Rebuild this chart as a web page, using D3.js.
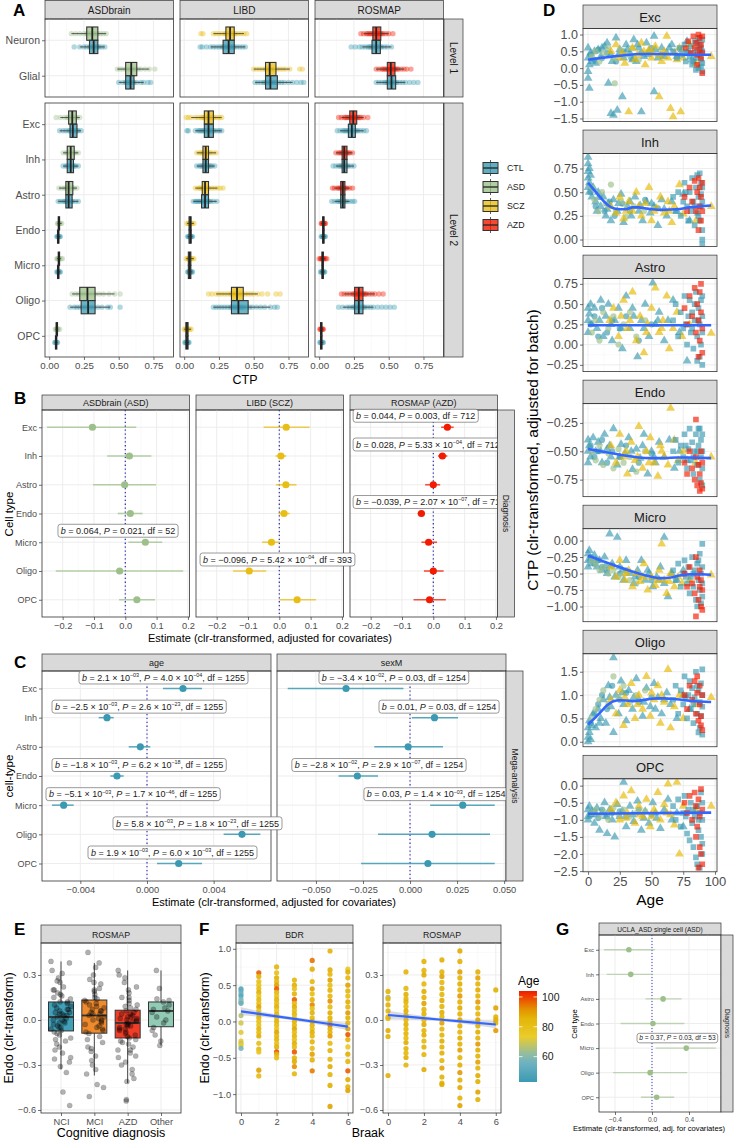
<!DOCTYPE html>
<html><head><meta charset="utf-8">
<script src="https://cdn.jsdelivr.net/npm/d3@7"></script>
<style>body{margin:0;background:#fff}svg{display:block}</style>
</head><body><script>
// ================= DATA =================
// ---- Panel A (CTP boxplots) ----
const aDatasets=["ASDbrain","LIBD","ROSMAP"];
const aDisease=["ASD","SCZ","AZD"];
const aLevel1=["Neuron","Glial"];
const aLevel2=["Exc","Inh","Astro","Endo","Micro","Oligo","OPC"];
const aTicks=[0,0.25,0.5,0.75];
// [q1, median, q3] for [disease, CTL], cells: Neuron, Glial, Exc, Inh, Astro, Endo, Micro, Oligo, OPC
const aBoxASDbrain=[[[0.27,0.31,0.35],[0.29,0.32,0.35]],[[0.55,0.59,0.63],[0.55,0.585,0.61]],[[0.14,0.166,0.195],[0.15,0.17,0.20]],[[0.13,0.155,0.18],[0.13,0.155,0.175]],[[0.12,0.14,0.17],[0.12,0.14,0.165]],[[0.065,0.07,0.075],[0.06,0.065,0.07]],[[0.065,0.07,0.075],[0.06,0.065,0.07]],[[0.22,0.275,0.33],[0.23,0.28,0.33]],[[0.05,0.055,0.06],[0.045,0.05,0.055]]];
const aBoxLIBD=[[[0.30,0.33,0.36],[0.28,0.32,0.36]],[[0.585,0.615,0.66],[0.585,0.62,0.67]],[[0.145,0.175,0.21],[0.145,0.175,0.21]],[[0.135,0.155,0.175],[0.135,0.155,0.175]],[[0.13,0.15,0.175],[0.125,0.15,0.175]],[[0.035,0.043,0.05],[0.035,0.045,0.05]],[[0.03,0.04,0.048],[0.03,0.04,0.048]],[[0.34,0.38,0.425],[0.34,0.39,0.46]],[[0.012,0.02,0.028],[0.012,0.02,0.028]]];
const aBoxROSMAP=[[[0.386,0.41,0.443],[0.38,0.41,0.44]],[[0.49,0.515,0.545],[0.49,0.52,0.55]],[[0.22,0.245,0.27],[0.21,0.235,0.26]],[[0.165,0.18,0.2],[0.165,0.18,0.2]],[[0.155,0.17,0.185],[0.155,0.17,0.185]],[[0.025,0.03,0.035],[0.025,0.03,0.035]],[[0.02,0.025,0.03],[0.02,0.025,0.03]],[[0.255,0.285,0.315],[0.255,0.285,0.315]],[[0.01,0.015,0.02],[0.01,0.015,0.02]]];
const aPtsASDbrain=[
 [[0.16,0.19,0.22,0.25,0.27,0.28,0.29,0.30,0.31,0.32,0.33,0.34,0.35,0.37,0.39,0.41],[0.18,0.22,0.25,0.27,0.29,0.30,0.31,0.32,0.33,0.34,0.35,0.36,0.38,0.40]],
 [[0.49,0.51,0.53,0.55,0.57,0.58,0.59,0.60,0.61,0.62,0.64,0.66,0.69,0.72,0.76],[0.50,0.53,0.55,0.56,0.57,0.58,0.59,0.60,0.61,0.63,0.66,0.68,0.71,0.73]],
 [[0.05,0.08,0.11,0.13,0.14,0.15,0.16,0.17,0.18,0.19,0.20,0.22],[0.075,0.1,0.12,0.14,0.15,0.16,0.17,0.18,0.19,0.2,0.21,0.23]],
 [[0.10,0.12,0.13,0.14,0.15,0.16,0.17,0.18,0.19,0.21],[0.10,0.12,0.13,0.14,0.15,0.16,0.17,0.18,0.19,0.21]],
 [[0.07,0.09,0.11,0.12,0.13,0.14,0.15,0.16,0.17,0.18,0.20],[0.065,0.08,0.1,0.11,0.12,0.13,0.14,0.15,0.16,0.17,0.19,0.21]],
 [[0.06,0.065,0.07,0.075,0.08,0.09],[0.055,0.06,0.065,0.07,0.075,0.08]],
 [[0.055,0.06,0.065,0.07,0.075,0.085,0.095],[0.055,0.06,0.065,0.07,0.075,0.08]],
 [[0.165,0.19,0.21,0.23,0.25,0.27,0.29,0.31,0.33,0.36,0.39,0.43,0.47,0.51],[0.15,0.18,0.2,0.22,0.24,0.26,0.28,0.3,0.32,0.35,0.38,0.42,0.44,0.51]],
 [[0.045,0.05,0.055,0.06,0.065,0.075],[0.04,0.045,0.05,0.055,0.06]]];
const aPtsLIBD=[
 [[0.12,0.135,0.21,0.23,0.25,0.27,0.29,0.30,0.31,0.32,0.33,0.34,0.35,0.36,0.37,0.39,0.41,0.43,0.45],[0.115,0.13,0.16,0.19,0.21,0.23,0.25,0.27,0.28,0.29,0.30,0.31,0.32,0.33,0.34,0.35,0.36,0.38,0.40,0.42,0.44]],
 [[0.50,0.52,0.54,0.56,0.58,0.59,0.60,0.61,0.62,0.63,0.64,0.65,0.67,0.69,0.71,0.73,0.76,0.83,0.85],[0.51,0.53,0.55,0.57,0.58,0.59,0.60,0.61,0.62,0.63,0.64,0.65,0.66,0.68,0.70,0.72,0.75,0.78,0.81,0.84,0.86]],
 [[0.015,0.03,0.05,0.08,0.1,0.12,0.13,0.14,0.15,0.16,0.17,0.18,0.19,0.2,0.21,0.22,0.24,0.255,0.27],[0.02,0.03,0.08,0.1,0.11,0.12,0.13,0.14,0.15,0.16,0.17,0.18,0.19,0.2,0.21,0.22,0.24,0.255,0.27]],
 [[0.09,0.11,0.12,0.13,0.14,0.15,0.16,0.17,0.18,0.19,0.21,0.23],[0.09,0.11,0.12,0.13,0.14,0.15,0.16,0.17,0.18,0.19,0.2,0.22]],
 [[0.08,0.1,0.11,0.12,0.13,0.14,0.15,0.16,0.17,0.18,0.2,0.22,0.24,0.26,0.28],[0.065,0.08,0.09,0.1,0.11,0.12,0.13,0.14,0.15,0.16,0.17,0.18,0.19,0.21,0.235]],
 [[0.02,0.03,0.035,0.04,0.045,0.05,0.06,0.07],[0.025,0.03,0.035,0.04,0.045,0.05,0.055,0.06]],
 [[0.015,0.025,0.03,0.035,0.04,0.045,0.05,0.06,0.07],[0.025,0.03,0.035,0.04,0.045,0.05,0.055,0.06]],
 [[0.175,0.2,0.23,0.25,0.27,0.29,0.31,0.33,0.34,0.35,0.36,0.37,0.38,0.39,0.4,0.41,0.42,0.44,0.46,0.48,0.5,0.53,0.56,0.6,0.66,0.69],[0.21,0.23,0.25,0.27,0.29,0.31,0.33,0.34,0.35,0.36,0.37,0.38,0.39,0.4,0.41,0.42,0.43,0.45,0.47,0.49,0.52,0.55,0.58,0.62,0.65,0.67]],
 [[0.0,0.01,0.015,0.02,0.025,0.03,0.04,0.05],[0.005,0.01,0.015,0.02,0.025,0.03,0.035]]];
const aPtsROSMAP=[
 [[0.30,0.32,0.34,0.35,0.36,0.37,0.38,0.39,0.40,0.41,0.42,0.43,0.44,0.45,0.46,0.48,0.5,0.53],[0.23,0.26,0.29,0.31,0.33,0.35,0.36,0.37,0.38,0.39,0.4,0.41,0.42,0.43,0.44,0.45,0.47,0.49,0.52]],
 [[0.41,0.43,0.45,0.46,0.47,0.48,0.49,0.5,0.51,0.52,0.53,0.54,0.55,0.56,0.57,0.59,0.61,0.63,0.66],[0.41,0.43,0.45,0.47,0.48,0.49,0.5,0.51,0.52,0.53,0.54,0.55,0.56,0.58,0.6,0.62,0.65,0.68,0.71]],
 [[0.14,0.16,0.18,0.19,0.2,0.21,0.22,0.23,0.24,0.25,0.26,0.27,0.28,0.29,0.3,0.32,0.35],[0.13,0.15,0.17,0.18,0.19,0.2,0.21,0.22,0.23,0.24,0.25,0.26,0.27,0.28,0.3,0.32,0.34]],
 [[0.12,0.14,0.15,0.16,0.17,0.18,0.19,0.2,0.21,0.22,0.24],[0.10,0.12,0.14,0.15,0.16,0.17,0.18,0.19,0.2,0.21,0.23,0.25]],
 [[0.095,0.11,0.13,0.14,0.15,0.16,0.17,0.18,0.19,0.2,0.22,0.24],[0.09,0.11,0.13,0.14,0.15,0.16,0.17,0.18,0.19,0.2,0.22,0.24,0.255]],
 [[0.015,0.02,0.025,0.03,0.035,0.04,0.045],[0.015,0.02,0.025,0.03,0.035,0.04,0.045]],
 [[0.0,0.01,0.015,0.02,0.025,0.03,0.035,0.045,0.055],[0.01,0.015,0.02,0.025,0.03,0.035,0.04]],
 [[0.16,0.18,0.2,0.22,0.24,0.25,0.26,0.27,0.28,0.29,0.3,0.31,0.32,0.33,0.34,0.36,0.38,0.4,0.43,0.46],[0.14,0.17,0.2,0.22,0.24,0.25,0.26,0.27,0.28,0.29,0.3,0.31,0.32,0.33,0.35,0.37,0.39,0.42,0.45,0.48,0.51,0.54]],
 [[0.005,0.01,0.015,0.02,0.025,0.03],[0.005,0.01,0.015,0.02,0.025,0.03]]];
const aLegend=["CTL","ASD","SCZ","AZD"];

// ---- Panel B (diagnosis estimates) ----
const bCells=["Exc","Inh","Astro","Endo","Micro","Oligo","OPC"];
const bPanels=["ASDbrain (ASD)","LIBD (SCZ)","ROSMAP (AZD)"];
const bTicks=[-0.2,-0.1,0,0.1,0.2];
const bEstASD=[-0.105,0.013,-0.002,0.016,0.064,-0.018,0.037];
const bLoASD=[-0.25,-0.058,-0.103,-0.024,0.01,-0.222,-0.02];
const bHiASD=[0.035,0.083,0.098,0.055,0.118,0.185,0.095];
const bEstSCZ=[0.022,0.005,0.021,0.015,-0.025,-0.096,0.057];
const bLoSCZ=[-0.05,-0.012,-0.011,-0.003,-0.055,-0.148,0.0];
const bHiSCZ=[0.097,0.022,0.055,0.033,0.0,-0.042,0.117];
const bEstAZD=[0.045,0.029,0.0,-0.038,-0.015,0.0,-0.012];
const bLoAZD=[0.025,0.015,-0.026,-0.05,-0.038,-0.03,-0.063];
const bHiAZD=[0.065,0.045,0.022,-0.027,0.012,0.033,0.04];
const bLabelPanel=[0,1,2,2,2];
const bLabelCell=["Micro","Oligo","Exc","Inh","Endo"];
const bLabelText=["*b* = 0.064, *P* = 0.021, df = 52","*b* = −0.096, *P* = 5.42 × 10^−04^, df = 393","*b* = 0.044, *P* = 0.003, df = 712","*b* = 0.028, *P* = 5.33 × 10^−04^, df = 712","*b* = −0.039, *P* = 2.07 × 10^−07^, df = 712"];

// ---- Panel C (mega-analysis) ----
const cPanels=["age","sexM"];
const cAgeTicks=[-0.004,0,0.004];
const cSexTicks=[-0.05,-0.025,0,0.025,0.05];
const cAgeEst=[0.00216,-0.0024,-0.0004,-0.0018,-0.0050,0.0057,0.0019];
const cAgeLo=[0.00096,-0.0029,-0.0011,-0.0022,-0.0057,0.0046,0.0006];
const cAgeHi=[0.0033,-0.0020,0.0002,-0.0014,-0.0044,0.0068,0.0033];
const cSexEst=[-0.034,0.013,-0.001,-0.028,0.028,0.0117,0.0095];
const cSexLo=[-0.065,0.001,-0.019,-0.038,0.0107,-0.017,-0.026];
const cSexHi=[-0.0035,0.0255,0.0175,-0.017,0.045,0.0425,0.045];
const cLabelPanel=[0,0,0,0,0,0,1,1,1,1];
const cLabelCell=["Exc","Inh","Endo","Micro","Oligo","OPC","Exc","Inh","Endo","Micro"];
const cLabelText=["*b* = 2.1 × 10^−03^, *P* = 4.0 × 10^−04^, df = 1255","*b* = −2.5 × 10^−03^, *P* = 2.6 × 10^−23^, df = 1255","*b* = −1.8 × 10^−03^, *P* = 6.2 × 10^−18^, df = 1255","*b* = −5.1 × 10^−03^, *P* = 1.7 × 10^−46^, df = 1255","*b* = 5.8 × 10^−03^, *P* = 1.8 × 10^−23^, df = 1255","*b* = 1.9 × 10^−03^, *P* = 6.0 × 10^−03^, df = 1255","*b* = −3.4 × 10^−02^, *P* = 0.03, df = 1254","*b* = 0.01, *P* = 0.03, df = 1254","*b* = −2.8 × 10^−02^, *P* = 2.9 × 10^−07^, df = 1254","*b* = 0.03, *P* = 1.4 × 10^−03^, df = 1254"];

// ---- Panel D (CTP vs age) : flat [age, value, age, value, ...] ----
const dCells=["Exc","Inh","Astro","Endo","Micro","Oligo","OPC"];
const dAgeTicks=[0,25,50,75,100];
const dExcTriT=[0,0.6,0,0.3,0,-0.1,0,-0.3,1,0.1,1,-0.6,2,0.45,3,0.2,5,0.5,8,0.55,10,0.35,13,0.65,15,0.75,16,-0.45,18,0.4,18,-1.35,20,-1.4,22,0.9,23,-1.25,25,0.55,27,-0.85,28,0.3,30,0.7,33,0.45,36,0.85,38,0.2,40,0.6,42,-1.3,44,0.35,46,0.75,48,0.5,52,0.95,52,-0.7,55,0.3,58,0.6,62,0.45,66,0.7,70,0.35,74,0.55,78,0.8,82,0.25,6,0.15,11,0.6,19,0.2,24,0.4,31,0.55,35,0.25,39,0.7,47,0.4,53,0.55,60,0.35,64,0.6];
const dExcTriY=[18,0.5,22,0.7,25,0.3,29,0.15,32,-1.3,35,0.6,39,0.4,42,0.75,45,0.1,48,0.55,50,0.3,53,0.65,56,-0.85,58,0.2,60,0.5,62,0.95,65,-1.2,67,-1.45,68,0.45,72,0.6,73,-1.3,75,0.3,80,0.7,85,0.15,97,0.35,27,0.45,37,0.25,44,0.5,51,0.45,57,0.4,63,0.3,70,0.25];
const dExcCirG=[3,0.35,6,0.5,9,0.2,12,0.45,16,0.6,20,0.3,21,-0.45,25,0.55,30,0.4,35,0.6,40,0.25,48,0.5,55,0.35];
const dExcCirT=[2,0.4,5,0.25,8,0.55,11,0.3,15,0.45,22,0.2,28,0.5,34,0.3,42,0.45,50,0.6,58,0.4];
const dExcSqT=[67,0.5,70,0.3,72,0.6,74,0.4,76,0.7,77,0.2,79,0.5,80,0.35,81,0.65,82,0.1,83,0.45,84,0.8,85,0.3,86,0.55,87,0.0,88,0.4,88,0.7,89,0.25,89,0.6,90,0.5,90,0.15,90,-0.1,90,0.85,85,-0.05,87,0.9,78,0.45,83,0.2,86,0.75,89,0.05];
const dExcSqR=[77,0.6,79,0.8,81,0.45,83,0.95,84,0.6,85,0.75,86,0.4,87,1.0,88,0.55,88,0.9,89,0.3,89,0.7,90,0.95,90,-0.15,90,0.45,86,0.1];
const dInhTriT=[0,0.87,0,0.8,0,0.72,0,0.65,0,0.55,1,0.75,1,0.6,1,0.5,2,0.68,3,0.45,4,0.55,6,0.4,8,0.5,10,0.35,12,0.45,14,0.25,16,0.38,18,0.2,20,0.42,23,0.3,26,0.48,28,0.18,31,0.35,34,0.25,37,0.45,40,0.3,43,0.2,46,0.4,49,0.28,52,0.35,55,0.15,58,0.42,62,0.25,66,0.4,70,0.3,75,0.48,80,0.2,7,0.3,15,0.32,24,0.38,33,0.4,41,0.36,50,0.38,60,0.32];
const dInhTriY=[18,0.35,22,0.28,25,0.45,28,0.22,32,0.4,35,0.3,38,0.5,42,0.25,45,0.38,48,0.55,50,0.2,54,0.33,57,0.45,60,0.28,63,0.4,66,0.18,68,0.35,72,0.58,75,0.27,85,0.2,97,0.35,30,0.3,40,0.35,52,0.3,64,0.3];
const dInhCirG=[3,0.55,5,0.42,8,0.3,11,0.5,14,0.38,18,0.58,22,0.3,26,0.4,30,0.24,36,0.35,44,0.3];
const dInhCirT=[2,0.5,6,0.35,9,0.45,13,0.3,17,0.4,21,0.25,27,0.38,33,0.3,45,0.42,55,0.33];
const dInhSqT=[67,0.45,69,0.3,71,0.5,73,0.25,75,0.4,76,0.6,78,0.35,79,0.2,80,0.5,81,0.3,82,0.65,83,0.4,84,0.15,85,0.55,86,0.28,87,0.45,88,0.7,88,0.2,89,0.35,89,0.6,90,0.1,90,0.4,90,0.0,90,-0.05,90,0.55,86,0.68,77,0.5,84,0.35,87,0.25,89,0.48];
const dInhSqR=[76,0.45,78,0.3,80,0.55,82,0.4,84,0.62,85,0.3,86,0.5,87,0.65,88,0.35,88,0.55,89,0.45,89,0.2,90,0.6,90,0.3,87,0.1];
const dAstroTriT=[0,0.45,0,0.3,0,0.15,1,0.38,2,0.5,3,0.25,5,0.45,7,0.2,10,0.55,12,0.1,14,0.35,16,0.5,19,0.05,21,0.3,24,0.45,27,-0.05,30,0.6,33,0.2,36,0.35,39,-0.15,42,0.3,45,0.5,48,0.1,51,0.76,53,0.25,56,0.4,60,0.05,63,0.3,67,0.55,72,0.15,78,-0.2,9,0.3,18,0.25,26,0.2,35,0.45,44,0.2,55,0.3];
const dAstroTriY=[17,0.3,20,0.45,24,0.1,28,0.55,31,0.2,35,0.65,38,0.05,41,0.35,44,-0.1,47,0.25,50,0.45,53,0.7,56,0.15,59,0.3,62,0.6,64,-0.05,67,0.2,70,0.4,74,0.1,80,0.25,97,0.14,26,0.35,33,0.3,46,0.15,58,0.2];
const dAstroCirG=[3,0.15,6,0.3,9,0.05,12,0.4,16,0.2,20,0.35,24,0.0,28,0.25,33,0.4,38,0.1,45,0.3];
const dAstroCirT=[2,0.25,5,0.35,8,0.1,11,0.45,15,0.15,19,0.3,25,0.2,30,0.35,40,0.05,50,0.25];
const dAstroSqT=[67,0.3,69,0.5,71,0.1,73,0.4,75,0.2,76,0.6,78,0.0,79,0.35,80,0.55,81,0.15,82,0.4,83,-0.05,84,0.3,85,0.65,86,0.1,87,0.45,88,-0.15,88,0.25,89,0.55,89,0.0,90,0.35,90,-0.25,90,0.15,90,0.6,86,-0.2,84,0.5,77,0.25,82,0.2,87,0.3];
const dAstroSqR=[76,0.45,78,0.25,80,0.6,82,0.35,84,0.7,85,0.15,86,0.5,87,0.3,88,0.65,88,0.05,89,0.4,89,0.75,90,0.2,90,-0.1,87,-0.15];
const dEndoTriT=[0,-0.4,0,-0.5,0,-0.6,1,-0.45,2,-0.55,4,-0.38,6,-0.5,8,-0.42,11,-0.6,13,-0.35,15,-0.48,18,-0.55,20,-0.3,23,-0.62,26,-0.44,29,-0.52,32,-0.38,35,-0.66,38,-0.48,41,-0.56,44,-0.35,47,-0.7,50,-0.5,53,-0.6,56,-0.42,60,-0.55,64,-0.4,68,-0.65,72,-0.5,78,-0.58,10,-0.5,17,-0.45,25,-0.55,34,-0.5,43,-0.45,52,-0.55];
const dEndoTriY=[18,-0.45,22,-0.6,25,-0.35,28,-0.55,31,-0.7,34,-0.42,37,-0.58,40,-0.28,43,-0.65,46,-0.5,49,-0.38,52,-0.6,55,-0.72,57,-0.45,60,-0.55,63,-0.62,65,-0.12,68,-0.4,71,-0.58,75,-0.5,85,-0.6,97,-0.55,30,-0.5,39,-0.55,48,-0.6,58,-0.5];
const dEndoCirG=[3,-0.5,6,-0.58,9,-0.45,12,-0.62,16,-0.52,20,-0.65,24,-0.48,28,-0.6,33,-0.55,38,-0.68,45,-0.5];
const dEndoCirT=[2,-0.45,5,-0.55,8,-0.5,11,-0.4,15,-0.6,19,-0.5,25,-0.55,30,-0.45,40,-0.6,50,-0.52];
const dEndoSqT=[67,-0.5,69,-0.4,71,-0.6,73,-0.45,75,-0.55,76,-0.35,78,-0.65,79,-0.48,80,-0.3,81,-0.58,82,-0.42,83,-0.7,84,-0.5,85,-0.35,86,-0.62,87,-0.45,88,-0.75,88,-0.3,89,-0.55,89,-0.4,90,-0.65,90,-0.5,90,-0.35,90,-0.8,87,-0.3,77,-0.45,83,-0.55,86,-0.5];
const dEndoSqR=[76,-0.6,78,-0.7,80,-0.5,82,-0.65,84,-0.75,85,-0.55,86,-0.8,87,-0.62,88,-0.85,88,-0.7,89,-0.5,89,-0.78,90,-0.6,90,-0.83,85,-0.22];
const dMicroTriT=[0,-0.2,0,-0.3,0,-0.4,1,-0.15,2,-0.28,3,-0.35,5,-0.22,7,-0.4,9,-0.3,11,-0.45,13,-0.25,15,-0.5,17,0.1,19,-0.35,21,-0.55,23,0.05,25,-0.4,28,-0.6,30,-0.3,33,-0.5,36,-0.65,39,-0.45,42,-0.3,45,-0.6,48,-0.5,51,-0.7,54,-0.55,57,-0.4,60,-0.65,63,-0.85,66,-0.5,70,-0.6,75,-0.45,60,0.05,6,-0.3,14,-0.38,27,-0.45,37,-0.55,47,-0.45,56,-0.6];
const dMicroTriY=[18,-0.4,22,-0.55,25,-0.3,29,-0.6,32,-0.45,35,-0.7,38,-0.5,41,-0.62,44,-0.35,47,-0.75,50,-0.55,53,-0.68,56,-0.45,58,-0.05,60,-0.6,62,-0.8,65,-0.5,68,-0.7,71,-0.55,74,-0.65,80,-0.6,97,-0.52,30,-0.5,43,-0.55,55,-0.6,64,-0.62];
const dMicroCirG=[3,-0.3,6,-0.35,9,-0.45,12,-0.4,16,-0.5,20,-0.45,24,-0.55,28,-0.5,33,-0.6,38,-0.65,45,-0.55];
const dMicroCirT=[2,-0.25,5,-0.35,8,-0.3,11,-0.4,15,-0.45,19,-0.38,25,-0.5,30,-0.45,40,-0.55,50,-0.6];
const dMicroSqT=[67,-0.45,69,-0.6,71,-0.35,73,-0.7,75,-0.5,76,-0.3,78,-0.65,79,-0.4,80,-0.8,81,-0.55,82,-0.25,83,-0.7,84,-0.45,85,-0.9,86,-0.35,87,-0.6,88,-0.2,88,-0.75,89,-0.5,89,-0.95,90,-0.4,90,-0.65,90,-0.05,90,-0.85,86,-1.0,77,-0.55,83,-0.5,87,-0.3];
const dMicroSqR=[76,-0.5,78,-0.7,80,-0.4,82,-0.65,84,-0.8,85,-0.25,86,-0.55,87,-0.9,88,-0.45,88,-0.7,89,-1.0,89,-0.6,90,-0.75,90,-1.05,85,-1.15];
const dOligoTriT=[0,0.3,0,0.1,0,0.0,1,0.2,1,0.45,2,0.05,3,0.35,4,0.6,6,0.3,8,0.7,10,0.5,12,0.9,14,0.4,16,1.2,18,0.75,20,1.8,20,0.2,22,1.0,24,0.6,26,1.3,28,0.8,30,0.45,32,1.1,35,0.7,38,1.35,40,0.9,43,0.55,46,1.15,49,0.75,52,1.25,55,0.95,58,0.6,62,1.05,65,0.8,70,0.5,75,1.0,80,0.7,9,0.4,17,0.95,27,1.05,36,0.95,44,0.85,53,0.7,60,0.9];
const dOligoTriY=[18,0.9,22,0.6,25,1.1,28,0.35,31,0.8,34,1.25,37,0.5,40,1.0,43,0.7,46,1.4,49,0.55,52,0.9,55,1.2,57,0.4,60,0.85,63,1.55,65,0.3,68,0.75,72,1.0,75,0.5,85,0.8,97,0.95,29,0.95,39,0.8,50,1.05,58,1.0];
const dOligoCirG=[3,0.5,6,0.7,9,0.9,12,1.1,16,0.8,20,1.4,24,0.95,28,1.2,33,0.85,38,1.0,45,1.1];
const dOligoCirT=[2,0.4,5,0.6,8,0.8,11,1.0,15,0.7,19,1.2,25,0.9,30,1.05,40,0.85,50,0.95];
const dOligoSqT=[67,0.9,69,1.2,71,0.6,73,1.1,75,0.8,76,1.4,78,0.5,79,1.0,80,1.3,81,0.7,82,1.15,83,0.4,84,0.95,85,1.5,86,0.6,87,1.1,88,0.3,88,0.85,89,1.25,89,0.55,90,1.0,90,0.15,90,0.75,90,1.55,87,0.2,77,0.95,83,0.8,86,1.2];
const dOligoSqR=[76,1.0,78,0.7,80,1.2,82,0.9,84,1.3,85,0.6,86,1.05,87,0.45,88,1.2,88,0.8,89,0.55,89,0.35,90,1.0,90,0.25,86,1.4];
const dOpcTriT=[0,-0.7,0,-0.9,0,-1.0,1,-0.6,2,-0.85,3,-0.75,5,-1.1,7,-0.65,9,-1.3,11,-0.8,13,-0.5,15,-1.4,17,-0.7,19,-1.0,21,-1.5,23,-0.55,25,-0.9,28,0.1,30,-1.2,33,-0.6,36,-1.05,39,-0.45,42,-1.3,45,-0.75,48,-1.1,51,-0.5,54,-0.95,57,-1.25,60,-0.7,63,-0.4,66,-1.0,70,-0.8,75,-1.2,6,-0.85,14,-0.9,27,-0.75,35,-0.85,44,-0.95,53,-0.8];
const dOpcTriY=[18,-0.7,22,-0.5,25,-1.0,28,-0.3,31,-0.8,34,-0.15,37,-1.1,40,-0.6,43,-0.9,46,-0.4,49,-1.2,52,-0.7,55,-0.2,57,-1.0,60,-0.55,63,0.05,65,-0.85,68,-1.15,70,0.1,72,-2.0,75,-0.6,85,-0.7,97,-0.6,30,-0.95,41,-0.85,50,-0.9,62,-0.8];
const dOpcCirG=[3,-0.8,6,-0.7,9,-0.9,12,-0.75,16,-1.0,20,-0.65,24,-0.85,28,-0.7,33,-0.9,38,-0.8,45,-0.75];
const dOpcCirT=[2,-0.85,5,-0.75,8,-0.95,11,-0.7,15,-0.9,19,-0.8,25,-0.75,30,-0.9,40,-0.7,50,-0.85];
const dOpcSqT=[67,-0.6,69,-1.0,71,-0.4,73,-1.2,75,-0.8,76,-0.3,78,-1.4,79,-0.7,80,-1.6,81,-0.5,82,-1.1,83,-1.8,84,-0.9,85,-2.1,86,-0.6,87,-1.3,88,-2.4,88,-0.8,89,-1.5,89,-0.2,90,-1.0,90,-2.0,90,-0.5,90,-1.7,86,-2.3,77,-0.9,83,-0.7,87,-1.0];
const dOpcSqR=[76,-0.5,78,-0.8,80,-0.3,82,-1.0,84,-0.2,85,-0.6,86,-1.2,87,-0.4,88,-0.9,88,-1.8,89,-0.1,89,-2.0,90,-0.7,90,-2.3,87,-2.4,85,-1.5];
// loess fits (age, value)
const dExcFit=[0,0.25,10,0.30,20,0.35,30,0.39,40,0.42,50,0.42,60,0.42,70,0.41,80,0.40,97,0.40];
const dInhFit=[0,0.60,5,0.52,10,0.44,15,0.37,20,0.33,25,0.32,30,0.32,35,0.34,40,0.34,45,0.33,50,0.32,55,0.315,60,0.315,70,0.32,80,0.34,97,0.36];
const dAstroFit=[0,0.24,97,0.24];
const dEndoFit=[0,-0.48,10,-0.50,20,-0.52,30,-0.54,40,-0.555,50,-0.56,60,-0.56,70,-0.555,80,-0.555,97,-0.56];
const dMicroFit=[0,-0.23,10,-0.30,20,-0.37,30,-0.44,40,-0.50,50,-0.55,58,-0.57,65,-0.56,72,-0.53,80,-0.51,90,-0.51,97,-0.52];
const dOligoFit=[0,0.37,5,0.50,10,0.64,15,0.78,20,0.87,25,0.89,30,0.885,35,0.87,40,0.88,45,0.90,50,0.92,55,0.93,60,0.93,70,0.91,80,0.88,97,0.85];
const dOpcFit=[0,-0.82,97,-0.79];
const dYTicks=[[-1.5,-1,-0.5,0,0.5,1],[0,0.25,0.5,0.75],[-0.25,0,0.25,0.5,0.75],[-0.75,-0.5,-0.25],[-1,-0.75,-0.5,-0.25,0],[0,0.5,1,1.5],[-2.5,-2,-1.5,-1,-0.5,0]];

// ---- Panel E ----
const eGroups=["NCI","MCI","AZD","Other"];
const eTicks=[-0.6,-0.3,0,0.3];
const eBoxStats=[[-0.33,-0.073,0.02,0.12,0.39],[-0.37,-0.088,0.03,0.133,0.38],[-0.42,-0.12,-0.02,0.065,0.33],[-0.17,-0.045,0.06,0.12,0.33]];
const eNCI=[0.39,0.38,0.33,0.31,0.28,0.25,0.22,0.2,0.18,0.16,0.14,0.12,0.1,0.09,0.07,0.06,0.05,0.04,0.03,0.02,0.01,0.0,-0.01,-0.02,-0.03,-0.04,-0.05,-0.06,-0.08,-0.1,-0.12,-0.14,-0.16,-0.18,-0.2,-0.22,-0.25,-0.28,-0.31,-0.35,-0.48,-0.57,0.12,0.05,-0.02,0.03,0.08,-0.07,0.15,0.0,-0.09,0.2,0.11,0.04,-0.05,0.07,0.17,-0.13,0.26,-0.26];
const eMCI=[0.45,0.38,0.35,0.3,0.27,0.24,0.21,0.19,0.17,0.15,0.13,0.11,0.09,0.07,0.06,0.05,0.04,0.03,0.02,0.01,0.0,-0.01,-0.03,-0.05,-0.07,-0.09,-0.11,-0.13,-0.15,-0.18,-0.21,-0.24,-0.27,-0.3,-0.33,-0.36,-0.43,-0.45,-0.51,0.1,0.04,-0.02,0.14,-0.08,0.2,0.06,-0.04,0.12,0.0,0.08,-0.06,0.25,-0.19];
const eAZD=[0.33,0.3,0.28,0.25,0.22,0.2,0.18,0.15,0.13,0.11,0.09,0.07,0.05,0.04,0.03,0.02,0.01,0.0,-0.01,-0.02,-0.03,-0.04,-0.05,-0.06,-0.08,-0.1,-0.12,-0.14,-0.16,-0.18,-0.2,-0.22,-0.25,-0.28,-0.3,-0.33,-0.36,-0.39,-0.41,-0.53,-0.54,0.06,-0.07,0.02,-0.11,0.0,-0.15,0.1,-0.04,-0.01,0.04,-0.09,-0.03,0.01,-0.06,0.08,-0.13,-0.2,0.15,-0.24];
const eOther=[0.33,0.21,0.14,0.13,0.12,0.1,0.08,0.07,0.06,0.05,0.02,0.0,-0.02,-0.05,-0.07,-0.1,-0.14,-0.17];

// ---- Panel F : per Braak stage flat [value, age, ...] ----
const fBraakTicks=[0,2,4,6];
const fBDR0=[0.45,50,0.42,52,0.38,56,0.35,50,0.30,58,0.27,62,0.25,54,0.08,66,-0.02,70,-0.15,72,-0.27,75,-0.30,68,-0.33,74,-0.37,58];
const fBDR1=[0.67,97,0.62,86,0.55,80,0.50,78,0.45,82,0.40,88,0.35,76,0.30,84,0.25,80,0.20,90,0.15,78,0.10,83,0.05,86,0.00,80,-0.05,79,-0.10,85,-0.15,82,-0.20,88,-0.30,81,-0.38,84,-0.42,78,-0.67,90,-0.75,83];
const fBDR2=[0.75,85,0.67,80,0.60,88,0.55,83,0.50,90,0.45,98,0.40,84,0.35,79,0.30,86,0.25,82,0.20,88,0.15,77,0.10,85,0.05,81,0.00,87,-0.05,83,-0.10,79,-0.15,90,-0.20,84,-0.25,86,-0.30,80,-0.35,88,-0.42,99,-0.45,85,-0.50,82];
const fBDR3=[0.57,84,0.50,88,0.45,80,0.38,86,0.30,97,0.25,83,0.20,89,0.15,81,0.10,85,0.05,78,0.00,87,-0.05,84,-0.10,90,-0.15,82,-0.20,86,-0.25,80,-0.30,88,-0.35,83,-0.42,98,-0.50,85,-0.55,89,-0.62,92,-0.72,84];
const fBDR4=[0.84,95,0.72,88,0.55,84,0.45,90,0.38,82,0.30,86,0.23,93,0.18,80,0.12,87,0.05,83,0.00,89,-0.05,85,-0.10,81,-0.15,88,-0.20,84,-0.28,86,-0.37,82,-0.45,90,-0.53,87,-0.68,94];
const fBDR5=[0.97,86,0.71,88,0.65,84,0.57,90,0.50,82,0.43,87,0.35,85,0.28,92,0.20,83,0.12,89,0.05,86,0.00,84,-0.05,97,-0.10,88,-0.15,85,-0.20,91,-0.30,83,-0.40,87,-0.52,85,-0.62,89,-0.73,86,-0.88,88,-1.17,90];
const fBDR6=[0.72,75,0.68,88,0.60,84,0.50,90,0.42,86,0.35,82,0.27,89,0.20,85,0.12,91,0.05,87,-0.02,84,-0.10,90,-0.18,98,-0.25,86,-0.35,76,-0.45,88,-0.55,85,-0.68,97,-0.80,89,-0.90,86,-0.95,90];
const fROS0=[0.19,86,0.15,65,0.14,84,0.10,88,0.06,85,0.02,87,0.01,83,-0.07,89,-0.11,86,-0.37,88];
const fROS1=[0.32,86,0.21,84,0.17,88,0.14,85,0.12,87,0.09,83,0.06,89,0.03,86,0.00,84,-0.03,88,-0.06,85,-0.09,87,-0.12,83,-0.15,89,-0.19,86,-0.22,84,-0.25,88,-0.30,85];
const fROS2=[0.39,87,0.33,85,0.30,89,0.24,84,0.19,88,0.15,86,0.11,90,0.07,85,0.04,87,0.00,83,-0.03,89,-0.07,86,-0.10,88,-0.14,84,-0.18,87,-0.23,85,-0.33,89];
const fROS3=[0.40,88,0.32,86,0.29,90,0.25,84,0.21,87,0.17,85,0.13,89,0.09,86,0.05,88,0.02,84,-0.02,90,-0.06,85,-0.10,87,-0.14,89,-0.18,86,-0.22,88,-0.27,85,-0.32,90,-0.38,87,-0.42,86,-0.43,89];
const fROS4=[0.46,89,0.39,87,0.32,90,0.28,86,0.24,88,0.20,85,0.16,91,0.12,87,0.08,89,0.04,86,0.00,90,-0.04,88,-0.08,85,-0.12,89,-0.16,87,-0.20,90,-0.25,86,-0.30,88,-0.35,91,-0.40,87,-0.45,89,-0.52,86,-0.57,90];
const fROS5=[0.32,88,0.28,90,0.24,86,0.20,89,0.16,87,0.12,91,0.08,88,0.04,85,0.00,90,-0.04,87,-0.08,89,-0.12,86,-0.16,91,-0.20,88,-0.24,87,-0.28,90,-0.32,86,-0.37,89,-0.41,88,-0.48,90,-0.53,87];
const fROS6=[0.20,88,0.08,90,0.02,86,0.00,89,-0.02,87,-0.07,91];
// regression fit with CI band: [braak, fit, lo, hi]
const fBDRFit=[[0,0.14,0.085,0.195],[1.5,0.0875,0.055,0.12],[3,0.035,0.013,0.057],[4.5,-0.0175,-0.05,0.015],[6,-0.07,-0.12,-0.02]];
const fROSFit=[[0,0.033,0.005,0.061],[1.5,0.017,0.0,0.034],[3,0.0015,-0.009,0.012],[4.5,-0.014,-0.03,0.002],[6,-0.03,-0.055,-0.005]];
const fAgeTicks=[60,80,100];
const fAgeDomain=[43,104];

// ---- Panel G ----
const gCells=["Exc","Inh","Astro","Endo","Micro","Oligo","OPC"];
const gTicks=[-0.4,0,0.4];
const gEst=[-0.25,-0.23,0.12,0.01,0.37,-0.02,0.05];
const gLo=[-0.52,-0.49,-0.07,-0.34,0.04,-0.42,-0.12];
const gHi=[0.03,0.01,0.32,0.35,0.69,0.38,0.24];
const gLabelText="*b* = 0.37, *P* = 0.03, df = 53";

// ================= DRAWING =================
const FONT='"Liberation Sans", Arial, Helvetica, sans-serif';
const GRID="#ebebeb", GRIDMIN="#f4f4f4", BORDER="#333333", STRIP="#d9d9d9", TICK="#4d4d4d";
const COL={CTL:"#3B9AB2",ASD:"#9DC08B",SCZ:"#E8BE16",AZD:"#F21A00"};
const svg=d3.select("body").append("svg").attr("width",734).attr("height",1142).attr("font-family",FONT);
svg.append("rect").attr("width",734).attr("height",1142).attr("fill","#fff");

function strip(g,x,y,w,h,txt,fs,vertical){
  g.append("rect").attr("x",x).attr("y",y).attr("width",w).attr("height",h).attr("fill",STRIP).attr("stroke",BORDER).attr("stroke-width",0.7);
  const t=g.append("text").attr("fill","#1a1a1a").attr("font-size",fs).attr("text-anchor","middle").attr("dominant-baseline","central").text(txt);
  if(vertical) t.attr("transform",`translate(${x+w/2},${y+h/2}) rotate(90)`);
  else t.attr("x",x+w/2).attr("y",y+h/2+0.5);
}
function border(g,x,y,w,h){g.append("rect").attr("x",x).attr("y",y).attr("width",w).attr("height",h).attr("fill","none").attr("stroke",BORDER).attr("stroke-width",0.8);}
function vgrid(g,sc,vals,y0,y1,minor){g.append("g").selectAll("line").data(vals).join("line").attr("x1",d=>sc(d)).attr("x2",d=>sc(d)).attr("y1",y0).attr("y2",y1).attr("stroke",minor?GRIDMIN:GRID).attr("stroke-width",minor?0.5:0.9);}
function hgrid(g,sc,vals,x0,x1,minor){g.append("g").selectAll("line").data(vals).join("line").attr("y1",d=>sc(d)).attr("y2",d=>sc(d)).attr("x1",x0).attr("x2",x1).attr("stroke",minor?GRIDMIN:GRID).attr("stroke-width",minor?0.5:0.9);}
function minorOf(ticks,dom){const t=ticks.slice().sort((a,b)=>a-b),out=[];const st=t.length>1?t[1]-t[0]:1;
  for(let i=0;i<t.length-1;i++)out.push((t[i]+t[i+1])/2);
  if(t[0]-st/2>=Math.min(...dom))out.push(t[0]-st/2); if(t[t.length-1]+st/2<=Math.max(...dom))out.push(t[t.length-1]+st/2);return out;}
function styleAxis(ax,fs){ax.attr("font-size",null).attr("font-family",null);ax.select(".domain").remove();
  ax.selectAll(".tick line").attr("stroke","#333").attr("stroke-width",0.7);ax.selectAll(".tick text").attr("fill",TICK).attr("font-size",fs);}
function axisB(g,sc,ticks,y,fmt,fs){const ax=g.append("g").attr("transform",`translate(0,${y})`).call(d3.axisBottom(sc).tickValues(ticks).tickFormat(fmt).tickSize(3).tickPadding(2));styleAxis(ax,fs);}
function axisL(g,sc,ticks,x,fmt,fs){const a=d3.axisLeft(sc).tickSize(3).tickPadding(2);if(ticks)a.tickValues(ticks);if(fmt)a.tickFormat(fmt);const ax=g.append("g").attr("transform",`translate(${x},0)`).call(a);styleAxis(ax,fs);}
function title(g,x,y,txt,fs,rot,weight){const t=g.append("text").attr("font-size",fs).attr("fill","#000").attr("text-anchor","middle").text(txt);if(weight)t.attr("font-weight",weight);
  if(rot)t.attr("transform",`translate(${x},${y}) rotate(-90)`);else t.attr("x",x).attr("y",y);return t;}
function letter(x,y,t){svg.append("text").attr("x",x).attr("y",y).attr("font-size",17).attr("font-weight","bold").attr("fill","#000").text(t);}
function richLabel(g,left,cy,str,fs){
  const lg=g.append("g");const r=lg.append("rect");
  const t=lg.append("text").attr("x",left+fs*0.32).attr("y",cy+fs*0.36).attr("font-size",fs).attr("fill","#1a1a1a");
  let sup=false;
  str.split(/(\*[^*]+\*|\^[^^]+\^)/).filter(s=>s.length).forEach(p=>{
    if(p[0]==="^"){t.append("tspan").attr("font-size",fs*0.6).attr("dy",-fs*0.42).text(p.slice(1,-1));sup=true;}
    else{const ts=t.append("tspan");if(p[0]==="*")ts.attr("font-style","italic").text(p.slice(1,-1));else ts.text(p);if(sup){ts.attr("dy",fs*0.42);sup=false;}}
  });
  const w=t.node().getComputedTextLength();
  r.attr("x",left).attr("y",cy-fs*0.72).attr("width",w+fs*0.64).attr("height",fs*1.44).attr("rx",2.5).attr("fill","#fff").attr("stroke","#555").attr("stroke-width",0.6);
}
function pairs(flat){const o=[];for(let i=0;i<flat.length;i+=2)o.push([flat[i],flat[i+1]]);return o;}
// deterministic horizontal jitter offset in [-0.5, 0.5] (position only, not data)
function jit(j,k){const h=Math.sin(j*12.9898+k*78.233)*43758.5453;return h-Math.floor(h)-0.5;}

// ================= PANEL A =================
letter(13,16,"A");
{
  const px=[45,180,315], pw=128.5, y1=[19,97], y2=[103,357];
  const ys1=d3.scalePoint().domain(aLevel1).range(y1).padding(0.6);
  const ys2=d3.scalePoint().domain(aLevel2).range(y2).padding(0.6);
  const boxes=[aBoxASDbrain,aBoxLIBD,aBoxROSMAP], pts=[aPtsASDbrain,aPtsLIBD,aPtsROSMAP];
  const cells=aLevel1.concat(aLevel2);
  aDatasets.forEach((ds,i)=>{
    const x0=px[i], xs=d3.scaleLinear().domain([-0.03,0.894]).range([x0,x0+pw]);
    const g=svg.append("g");
    strip(g,x0,0.5,pw,18.5,ds,10);
    [[y1,ys1],[y2,ys2]].forEach(([yr,ys])=>{
      vgrid(g,xs,[0.125,0.375,0.625,0.875],yr[0],yr[1],true);
      vgrid(g,xs,aTicks,yr[0],yr[1],false);
      hgrid(g,ys,ys.domain(),x0,x0+pw,false);
    });
    cells.forEach((c,k)=>{
      const ys=k<2?ys1:ys2; const step=ys.step();
      [0,1].forEach(s=>{
        const col=s===0?COL[aDisease[i]]:COL.CTL;
        const yc=ys(c)+(s===0?-1:1)*step*0.1875, bh=step*0.375;
        const [q1,md,q3]=boxes[i][k][s], p=pts[i][k][s], iqr=q3-q1;
        const inR=p.filter(v=>v>=q1-1.5*iqr&&v<=q3+1.5*iqr);
        const lo=Math.min(q1,...inR), hi=Math.max(q3,...inR);
        g.append("g").selectAll("circle").data(p).join("circle").attr("cx",d=>xs(d)).attr("cy",yc).attr("r",2.7).attr("fill",col).attr("fill-opacity",0.4);
        g.append("line").attr("x1",xs(lo)).attr("x2",xs(hi)).attr("y1",yc).attr("y2",yc).attr("stroke","#333").attr("stroke-width",0.8);
        g.append("rect").attr("x",xs(q1)).attr("y",yc-bh/2).attr("width",Math.max(0.8,xs(q3)-xs(q1))).attr("height",bh).attr("fill",col).attr("fill-opacity",0.75).attr("stroke","#333").attr("stroke-width",1.1);
        g.append("line").attr("x1",xs(md)).attr("x2",xs(md)).attr("y1",yc-bh/2).attr("y2",yc+bh/2).attr("stroke","#222").attr("stroke-width",1.8);
      });
    });
    border(g,x0,y1[0],pw,y1[1]-y1[0]); border(g,x0,y2[0],pw,y2[1]-y2[0]);
    axisB(g,xs,aTicks,y2[1],d3.format(".2f"),9.7);
  });
  axisL(svg,ys1,null,45,null,10.5); axisL(svg,ys2,null,45,null,10.5);
  strip(svg,444,19,19,78,"Level 1",10,true); strip(svg,444,103,19,254,"Level 2",10,true);
  title(svg,245,384,"CTP",12.5);
  const lg=svg.append("g");
  aLegend.forEach((k,i)=>{
    const cy=168+i*19, cx=490.5;
    lg.append("line").attr("x1",cx).attr("x2",cx).attr("y1",cy-8).attr("y2",cy+8).attr("stroke","#333").attr("stroke-width",0.8);
    lg.append("rect").attr("x",cx-7.5).attr("y",cy-5.5).attr("width",15).attr("height",11).attr("fill",COL[k]).attr("fill-opacity",0.8).attr("stroke","#333").attr("stroke-width",1);
    lg.append("line").attr("x1",cx-7.5).attr("x2",cx+7.5).attr("y1",cy).attr("y2",cy).attr("stroke","#222").attr("stroke-width",1.3);
    lg.append("text").attr("x",507).attr("y",cy+3.2).attr("font-size",8.8).attr("fill","#1a1a1a").text(k);
  });
}

// ================= PANEL B =================
letter(14,404,"B");
{
  const px=[42,196,350], pw=147.5, yr=[410,617];
  const ys=d3.scalePoint().domain(bCells).range(yr).padding(0.6);
  const est=[bEstASD,bEstSCZ,bEstAZD], lo=[bLoASD,bLoSCZ,bLoAZD], hi=[bHiASD,bHiSCZ,bHiAZD];
  const cols=[COL.ASD,COL.SCZ,COL.AZD];
  const labelLeft=[-0.215,-0.253,-0.256,-0.256,-0.256];
  const scs=[];
  bPanels.forEach((nm,i)=>{
    const x0=px[i], xs=d3.scaleLinear().domain([-0.266,0.205]).range([x0,x0+pw]); scs.push(xs);
    const g=svg.append("g");
    strip(g,x0,395,pw,15,nm,9);
    vgrid(g,xs,[-0.25,-0.15,-0.05,0.05,0.15],yr[0],yr[1],true);
    vgrid(g,xs,bTicks,yr[0],yr[1],false);
    hgrid(g,ys,bCells,x0,x0+pw,false);
    g.append("line").attr("x1",xs(0)).attr("x2",xs(0)).attr("y1",yr[0]).attr("y2",yr[1]).attr("stroke","#2a2aa8").attr("stroke-width",1.2).attr("stroke-dasharray","1.3,2.6");
    bCells.forEach((c,k)=>{
      g.append("line").attr("x1",xs(lo[i][k])).attr("x2",xs(hi[i][k])).attr("y1",ys(c)).attr("y2",ys(c)).attr("stroke",cols[i]).attr("stroke-opacity",0.75).attr("stroke-width",1.6);
      g.append("circle").attr("cx",xs(est[i][k])).attr("cy",ys(c)).attr("r",3.6).attr("fill",cols[i]);
    });
    border(g,x0,yr[0],pw,yr[1]-yr[0]);
    axisB(g,xs,bTicks,yr[1],d3.format(".1f"),9.3);
  });
  const clipB=svg.append("clipPath").attr("id","clipB").append("rect").attr("x",0).attr("y",380).attr("width",497.5).attr("height",260);
  const lbG=svg.append("g").attr("clip-path","url(#clipB)");
  bLabelText.forEach((t,j)=>{const xs=scs[bLabelPanel[j]];richLabel(lbG,xs(labelLeft[j]),ys(bLabelCell[j])-11.5,t,9);});
  axisL(svg,ys,null,42,null,9);
  strip(svg,497.5,410,17,207,"Diagnosis",8.5,true);
  title(svg,9,514,"Cell type",11.5,true).attr("dominant-baseline","central");
  title(svg,270,642,"Estimate (clr-transformed, adjusted for covariates)",11);
}

// ================= PANEL C =================
letter(14,668,"C");
{
  const px=[42,277], pw=229, yr=[671,881];
  const ys=d3.scalePoint().domain(bCells).range(yr).padding(0.6);
  const doms=[[-0.0063,0.00744],[-0.0707,0.051]], ticks=[cAgeTicks,cSexTicks];
  const est=[cAgeEst,cSexEst], lo=[cAgeLo,cSexLo], hi=[cAgeHi,cSexHi];
  const labelLeft=[-0.00408,-0.0057,-0.0057,-0.00606,-0.00204,-0.00354,-0.0484,-0.0165,-0.0628,-0.0245];
  const scs=[];
  cPanels.forEach((nm,i)=>{
    const x0=px[i], xs=d3.scaleLinear().domain(doms[i]).range([x0,x0+pw]); scs.push(xs);
    const g=svg.append("g");
    strip(g,x0,654,pw,17,nm,9);
    vgrid(g,xs,minorOf(ticks[i],doms[i]),yr[0],yr[1],true);
    vgrid(g,xs,ticks[i],yr[0],yr[1],false);
    hgrid(g,ys,bCells,x0,x0+pw,false);
    g.append("line").attr("x1",xs(0)).attr("x2",xs(0)).attr("y1",yr[0]).attr("y2",yr[1]).attr("stroke","#3a32b8").attr("stroke-width",1.2).attr("stroke-dasharray","1.3,2.6");
    bCells.forEach((c,k)=>{
      g.append("line").attr("x1",xs(lo[i][k])).attr("x2",xs(hi[i][k])).attr("y1",ys(c)).attr("y2",ys(c)).attr("stroke",COL.CTL).attr("stroke-opacity",0.85).attr("stroke-width",1.5);
      g.append("circle").attr("cx",xs(est[i][k])).attr("cy",ys(c)).attr("r",3.6).attr("fill",COL.CTL);
    });
    border(g,x0,yr[0],pw,yr[1]-yr[0]);
    axisB(g,xs,ticks[i],yr[1],d3.format(".3f"),9.3);
  });
  svg.append("clipPath").attr("id","clipC").append("rect").attr("x",0).attr("y",640).attr("width",506).attr("height",260);
  const lcG=svg.append("g").attr("clip-path","url(#clipC)");
  cLabelText.forEach((t,j)=>{const xs=scs[cLabelPanel[j]];richLabel(lcG,xs(labelLeft[j]),ys(cLabelCell[j])-11,t,9);});
  axisL(svg,ys,null,42,null,9);
  strip(svg,506,671,17,210,"Mega-analysis",8.5,true);
  title(svg,9,776,"cell-type",11.5,true).attr("dominant-baseline","central");
  title(svg,274,906,"Estimate (clr-transformed, adjusted for covariates)",11);
}

// ================= PANEL D =================
letter(543,16,"D");
{
  const x0=583, pw=134, xs=d3.scaleLinear().domain([-4,101.6]).range([x0,x0+pw]);
  const doms=[[-1.59,1.18],[-0.074,0.908],[-0.333,0.815],[-0.90,-0.08],[-1.23,0.18],[-0.107,1.885],[-2.52,0.2]];
  const fmts=[".1f",".2f",".2f",".2f",".2f",".1f",".1f"];
  const fits=[dExcFit,dInhFit,dAstroFit,dEndoFit,dMicroFit,dOligoFit,dOpcFit];
  const groups=[
    [dExcTriT,dInhTriT,dAstroTriT,dEndoTriT,dMicroTriT,dOligoTriT,dOpcTriT],
    [dExcCirT,dInhCirT,dAstroCirT,dEndoCirT,dMicroCirT,dOligoCirT,dOpcCirT],
    [dExcCirG,dInhCirG,dAstroCirG,dEndoCirG,dMicroCirG,dOligoCirG,dOpcCirG],
    [dExcTriY,dInhTriY,dAstroTriY,dEndoTriY,dMicroTriY,dOligoTriY,dOpcTriY],
    [dExcSqT,dInhSqT,dAstroSqT,dEndoSqT,dMicroSqT,dOligoSqT,dOpcSqT],
    [dExcSqR,dInhSqR,dAstroSqR,dEndoSqR,dMicroSqR,dOligoSqR,dOpcSqR]];
  const gShape=[d3.symbolTriangle,d3.symbolCircle,d3.symbolCircle,d3.symbolTriangle,d3.symbolSquare,d3.symbolSquare];
  const gCol=[COL.CTL,COL.CTL,COL.ASD,"#E6B800",COL.CTL,COL.AZD];
  const gSize=[34,30,30,34,32,32];
  dCells.forEach((c,i)=>{
    const top=5+i*125.05, py0=top+23.5, py1=py0+93;
    const ys=d3.scaleLinear().domain(doms[i]).range([py1,py0]);
    const g=svg.append("g");
    strip(g,x0,top,pw,23.5,c,13);
    hgrid(g,ys,minorOf(dYTicks[i],doms[i]),x0,x0+pw,true);
    vgrid(g,xs,[12.5,37.5,62.5,87.5],py0,py1,true);
    hgrid(g,ys,dYTicks[i],x0,x0+pw,false);
    vgrid(g,xs,dAgeTicks,py0,py1,false);
    const clip="clipD"+i;
    g.append("clipPath").attr("id",clip).append("rect").attr("x",x0).attr("y",py0).attr("width",pw).attr("height",93);
    const pg=g.append("g").attr("clip-path",`url(#${clip})`);
    groups.forEach((gr,j)=>{
      pg.append("g").selectAll("path").data(pairs(gr[i])).join("path")
        .attr("d",d3.symbol().type(gShape[j]).size(gSize[j]))
        .attr("transform",d=>`translate(${xs(d[0])},${ys(d[1])})`)
        .attr("fill",gCol[j]).attr("fill-opacity",0.65);
    });
    pg.append("path").attr("d",d3.line().x(d=>xs(d[0])).y(d=>ys(d[1])).curve(d3.curveMonotoneX)(pairs(fits[i])))
      .attr("fill","none").attr("stroke","#3366FF").attr("stroke-width",2.6);
    border(g,x0,py0,pw,93);
    axisL(g,ys,dYTicks[i],x0,d3.format(fmts[i]),12.5);
    if(i===6) axisB(g,xs,dAgeTicks,py1,d3.format("d"),13);
  });
  title(svg,650,905,"Age",15.5);
  title(svg,538,450,"CTP (clr-transformed, adjusted for batch)",15.5,true);
}

// ================= PANEL E =================
letter(14,935,"E");
{
  const x0=41, pw=140, yr=[943,1113], dom=[-0.62,0.513];
  const xs=d3.scalePoint().domain(eGroups).range([x0,x0+pw]).padding(0.6);
  const ys=d3.scaleLinear().domain(dom).range([yr[1],yr[0]]);
  const g=svg.append("g");
  strip(g,x0,925,pw,18,"ROSMAP",8.8);
  hgrid(g,ys,minorOf(eTicks,dom),x0,x0+pw,true);
  hgrid(g,ys,eTicks,x0,x0+pw,false);
  vgrid(g,xs,eGroups,yr[0],yr[1],false);
  const cols=["#3FA0B8","#EE8B2E","#F03D28","#91CBB6"], pts=[eNCI,eMCI,eAZD,eOther], bw=25;
  eGroups.forEach((k,i)=>{
    const cx=xs(k), [wl,q1,md,q3,wh]=eBoxStats[i];
    g.append("line").attr("x1",cx).attr("x2",cx).attr("y1",ys(wl)).attr("y2",ys(wh)).attr("stroke","#333").attr("stroke-width",0.9);
    g.append("rect").attr("x",cx-bw/2).attr("y",ys(q3)).attr("width",bw).attr("height",ys(q1)-ys(q3)).attr("fill",cols[i]).attr("stroke","#333").attr("stroke-width",1);
    g.append("line").attr("x1",cx-bw/2).attr("x2",cx+bw/2).attr("y1",ys(md)).attr("y2",ys(md)).attr("stroke","#333").attr("stroke-width",1.8);
  });
  eGroups.forEach((k,i)=>{
    const cx=xs(k);
    g.append("g").selectAll("circle").data(pts[i]).join("circle")
      .attr("cx",(d,j)=>cx+jit(j,i)*20).attr("cy",d=>ys(d)).attr("r",2.6)
      .attr("fill","#000").attr("fill-opacity",0.3).attr("stroke","#000").attr("stroke-opacity",0.25).attr("stroke-width",0.4);
  });
  border(g,x0,yr[0],pw,yr[1]-yr[0]);
  axisL(g,ys,eTicks,x0,d3.format(".1f"),9.2);
  axisB(g,xs,null,yr[1],null,9.3);
  title(svg,111,1137,"Cognitive diagnosis",12.5);
  title(svg,9,1028,"Endo (clr-transform)",12.5,true).attr("dominant-baseline","central");
}

// ================= PANEL F =================
letter(199,935,"F");
{
  const yr=[943,1113];
  const ageCol=d3.scaleLinear().domain(d3.range(5).map(i=>fAgeDomain[0]+i*(fAgeDomain[1]-fAgeDomain[0])/4))
    .range(["#3B9AB2","#78B7C5","#EBCC2A","#E1AF00","#F21A00"]).interpolate(d3.interpolateRgb);
  const cfg=[
    {name:"BDR",x0:236,pw:117,dom:[-1.26,1.08],ticks:[-1,-0.5,0,0.5,1],cols:[fBDR0,fBDR1,fBDR2,fBDR3,fBDR4,fBDR5,fBDR6],fit:fBDRFit},
    {name:"ROSMAP",x0:383,pw:118,dom:[-0.62,0.513],ticks:[-0.6,-0.3,0,0.3],cols:[fROS0,fROS1,fROS2,fROS3,fROS4,fROS5,fROS6],fit:fROSFit}];
  cfg.forEach(p=>{
    const xs=d3.scaleLinear().domain([-0.28,6.29]).range([p.x0,p.x0+p.pw]);
    const ys=d3.scaleLinear().domain(p.dom).range([yr[1],yr[0]]);
    const g=svg.append("g");
    strip(g,p.x0,925,p.pw,18,p.name,8.8);
    hgrid(g,ys,minorOf(p.ticks,p.dom),p.x0,p.x0+p.pw,true);
    vgrid(g,xs,[1,3,5],yr[0],yr[1],true);
    hgrid(g,ys,p.ticks,p.x0,p.x0+p.pw,false);
    vgrid(g,xs,fBraakTicks,yr[0],yr[1],false);
    p.cols.forEach((arr,b)=>{
      g.append("g").selectAll("circle").data(pairs(arr)).join("circle")
        .attr("cx",xs(b)).attr("cy",d=>ys(d[0])).attr("r",2.6).attr("fill",d=>ageCol(d[1])).attr("fill-opacity",0.9);
    });
    g.append("path").attr("d",d3.area().x(d=>xs(d[0])).y0(d=>ys(d[2])).y1(d=>ys(d[3])).curve(d3.curveMonotoneX)(p.fit))
      .attr("fill","#999").attr("fill-opacity",0.35);
    g.append("path").attr("d",d3.line().x(d=>xs(d[0])).y(d=>ys(d[1]))(p.fit)).attr("fill","none").attr("stroke","#3366FF").attr("stroke-width",2.2);
    border(g,p.x0,yr[0],p.pw,yr[1]-yr[0]);
    axisL(g,ys,p.ticks,p.x0,d3.format(".1f"),9.2);
    axisB(g,xs,fBraakTicks,yr[1],d3.format("d"),9.3);
  });
  title(svg,368,1137,"Braak",12.5);
  title(svg,205,1028,"Endo (clr-transform)",12.5,true).attr("dominant-baseline","central");
  const by0=991, by1=1082, bx=519, bw=18;
  const cs=d3.scaleLinear().domain(fAgeDomain).range([by1,by0]);
  const defs=svg.append("defs"), lgd=defs.append("linearGradient").attr("id","ageGrad").attr("x1",0).attr("y1",1).attr("x2",0).attr("y2",0);
  d3.range(11).forEach(i=>{const a=fAgeDomain[0]+i*(fAgeDomain[1]-fAgeDomain[0])/10;lgd.append("stop").attr("offset",i/10).attr("stop-color",ageCol(a));});
  svg.append("rect").attr("x",bx).attr("y",by0).attr("width",bw).attr("height",by1-by0).attr("fill","url(#ageGrad)");
  fAgeTicks.forEach(a=>{
    svg.append("line").attr("x1",bx).attr("x2",bx+3.5).attr("y1",cs(a)).attr("y2",cs(a)).attr("stroke","#fff").attr("stroke-width",0.8);
    svg.append("line").attr("x1",bx+bw-3.5).attr("x2",bx+bw).attr("y1",cs(a)).attr("y2",cs(a)).attr("stroke","#fff").attr("stroke-width",0.8);
    svg.append("text").attr("x",bx+bw+5).attr("y",cs(a)+3.7).attr("font-size",10.5).attr("fill","#1a1a1a").text(a);
  });
  svg.append("text").attr("x",bx-1).attr("y",985).attr("font-size",12).attr("fill","#000").text("Age");
}

// ================= PANEL G =================
letter(556,935,"G");
{
  const x0=599, pw=122, yr=[935,1112], dom=[-0.573,0.746];
  const xs=d3.scaleLinear().domain(dom).range([x0,x0+pw]);
  const ys=d3.scalePoint().domain(gCells).range(yr).padding(0.6);
  const g=svg.append("g");
  strip(g,x0,923,pw,12,"UCLA_ASD single cell (ASD)",6.6);
  vgrid(g,xs,[-0.2,0.2,0.6],yr[0],yr[1],true);
  vgrid(g,xs,gTicks,yr[0],yr[1],false);
  hgrid(g,ys,gCells,x0,x0+pw,false);
  g.append("line").attr("x1",xs(0)).attr("x2",xs(0)).attr("y1",yr[0]).attr("y2",yr[1]).attr("stroke","#3a3ad0").attr("stroke-width",1).attr("stroke-dasharray","1,2");
  gCells.forEach((c,k)=>{
    g.append("line").attr("x1",xs(gLo[k])).attr("x2",xs(gHi[k])).attr("y1",ys(c)).attr("y2",ys(c)).attr("stroke",COL.ASD).attr("stroke-opacity",0.6).attr("stroke-width",1.3);
    g.append("circle").attr("cx",xs(gEst[k])).attr("cy",ys(c)).attr("r",2.8).attr("fill",COL.ASD);
  });
  richLabel(g,xs(-0.162),ys("Micro")-10,gLabelText,6.6);
  border(g,x0,yr[0],pw,yr[1]-yr[0]);
  axisL(g,ys,null,x0,null,5.8);
  axisB(g,xs,gTicks,yr[1],d3.format(".1f"),6.6);
  strip(svg,721,935,12,177,"Diagnosis",6.6,true);
  title(svg,649,1131,"Estimate (clr-transformed, adj. for covariates)",7.6);
  title(svg,574,1024,"Cell type",7.6,true).attr("dominant-baseline","central");
}
</script></body></html>
